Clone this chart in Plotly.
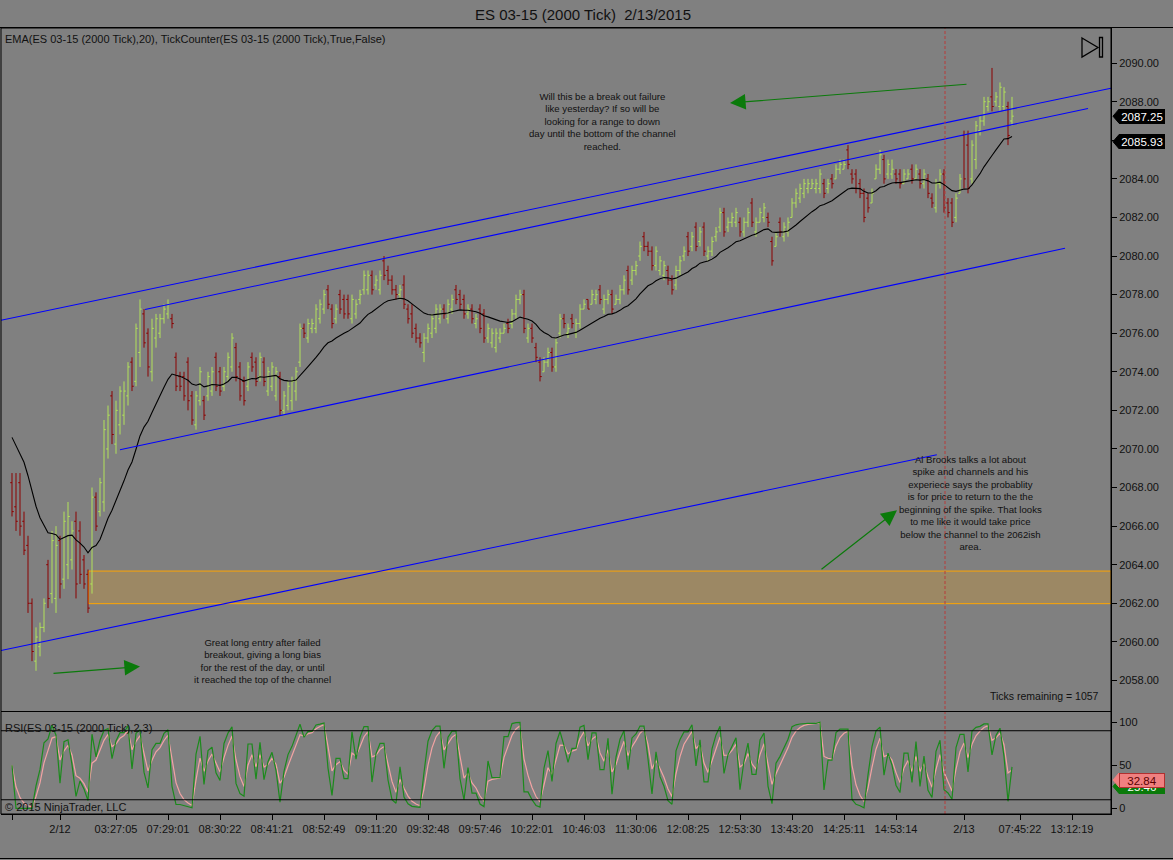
import plotly.graph_objects as go

# ---------------- data ----------------
opens = [
2068.25, 2067.00, 2068.25, 2066.25, 2065.00, 2062.00, 2059.00, 2059.75, 2060.75, 2064.00,
2062.50, 2062.25, 2065.25, 2063.25, 2064.00, 2064.25, 2066.25, 2065.75, 2064.25, 2063.50,
2063.00, 2067.50, 2066.75, 2067.25, 2070.00, 2072.75, 2070.25, 2071.25, 2071.75, 2072.75,
2074.50, 2073.50, 2075.00, 2077.00, 2076.00, 2074.00, 2075.75, 2076.00, 2076.75, 2077.00,
2076.75, 2074.75, 2073.75, 2073.75, 2074.50, 2072.75, 2071.25, 2072.50, 2072.50, 2072.75,
2073.00, 2074.75, 2074.00, 2073.25, 2073.75, 2074.25, 2075.25, 2074.25, 2073.50, 2073.25,
2074.75, 2074.50, 2073.75, 2074.50, 2073.00, 2073.25, 2072.75, 2073.75, 2072.00, 2072.25,
2072.50, 2073.00, 2074.50, 2076.25, 2075.75, 2076.25, 2076.25, 2076.75, 2077.25, 2078.25,
2077.25, 2076.75, 2078.00, 2077.75, 2077.75, 2076.75, 2077.00, 2077.75, 2078.25, 2078.25,
2079.00, 2078.50, 2078.25, 2079.75, 2079.25, 2078.75, 2078.25, 2078.00, 2078.50, 2077.25,
2077.00, 2076.25, 2075.75, 2075.00, 2075.75, 2076.00, 2076.25, 2076.75, 2077.25, 2076.75,
2077.25, 2078.25, 2078.00, 2077.75, 2077.00, 2077.25, 2076.50, 2077.25, 2077.00, 2075.75,
2075.50, 2075.25, 2075.75, 2076.00, 2076.50, 2076.50, 2077.00, 2077.75, 2078.00, 2075.75,
2076.25, 2075.25, 2074.50, 2074.00, 2074.50, 2075.00, 2074.25, 2076.00, 2076.75, 2076.00,
2076.75, 2076.00, 2076.50, 2077.25, 2077.75, 2077.50, 2077.75, 2078.25, 2077.25, 2077.75,
2078.00, 2077.50, 2077.75, 2078.25, 2079.25, 2078.75, 2079.25, 2080.00, 2081.00, 2080.50,
2080.25, 2079.50, 2079.25, 2079.00, 2079.25, 2078.75, 2078.50, 2079.25, 2080.00, 2081.00,
2080.50, 2081.50, 2080.75, 2081.50, 2080.00, 2080.25, 2081.00, 2081.50, 2082.25, 2081.50,
2081.75, 2081.75, 2081.75, 2081.25, 2081.75, 2082.75, 2081.25, 2081.75, 2082.00, 2082.00,
2080.75, 2080.50, 2081.75, 2081.00, 2081.25, 2082.00, 2082.75, 2083.00, 2083.25, 2083.50,
2083.50, 2083.50, 2083.50, 2083.75, 2083.50, 2084.00, 2084.00, 2084.50, 2084.50, 2085.50,
2084.25, 2084.25, 2083.75, 2083.25, 2083.00, 2082.75, 2084.00, 2084.50, 2085.00, 2084.25,
2084.25, 2084.25, 2084.25, 2083.75, 2084.00, 2084.50, 2084.00, 2084.25, 2083.75, 2084.00,
2083.00, 2082.50, 2083.75, 2084.25, 2082.75, 2082.75, 2082.00, 2083.25, 2086.25, 2085.75,
2084.00, 2085.00, 2086.50, 2087.00, 2087.75, 2088.25, 2088.00, 2087.75, 2087.75, 2087.75,
2087.00]

highs = [
2068.75, 2068.75, 2068.75, 2066.75, 2065.50, 2062.25, 2060.75, 2061.00, 2062.25, 2064.25,
2065.75, 2066.00, 2065.50, 2066.75, 2067.25, 2066.25, 2066.75, 2066.25, 2064.50, 2063.75,
2068.00, 2067.75, 2068.50, 2071.50, 2072.25, 2073.00, 2072.50, 2073.25, 2073.50, 2074.50,
2074.75, 2076.50, 2077.75, 2077.25, 2076.25, 2076.75, 2077.00, 2077.00, 2077.50, 2077.75,
2077.00, 2075.00, 2074.00, 2074.00, 2074.75, 2073.00, 2073.00, 2074.25, 2072.75, 2074.00,
2074.25, 2075.00, 2074.25, 2074.25, 2075.00, 2076.00, 2075.50, 2074.50, 2073.75, 2074.50,
2075.00, 2074.75, 2075.00, 2074.75, 2074.25, 2074.50, 2074.25, 2074.00, 2073.00, 2073.50,
2073.75, 2074.25, 2076.50, 2076.50, 2076.75, 2076.75, 2077.50, 2077.75, 2078.25, 2078.50,
2077.50, 2077.50, 2078.25, 2078.00, 2078.00, 2078.00, 2077.75, 2078.25, 2079.25, 2079.25,
2079.25, 2079.00, 2079.25, 2080.00, 2079.50, 2079.00, 2078.50, 2078.50, 2079.00, 2077.50,
2077.50, 2076.50, 2076.00, 2076.00, 2076.50, 2077.00, 2077.50, 2077.50, 2077.50, 2077.75,
2078.00, 2078.50, 2078.25, 2078.00, 2077.50, 2077.50, 2077.00, 2077.50, 2077.25, 2076.50,
2076.25, 2076.25, 2076.25, 2076.50, 2076.75, 2077.25, 2078.00, 2078.25, 2078.25, 2076.50,
2076.50, 2075.50, 2074.75, 2074.75, 2075.25, 2075.25, 2075.75, 2077.00, 2077.00, 2076.50,
2077.00, 2076.75, 2077.50, 2077.75, 2077.75, 2078.25, 2078.25, 2078.50, 2078.00, 2078.25,
2078.25, 2078.00, 2078.50, 2079.00, 2079.50, 2079.50, 2079.75, 2080.75, 2081.25, 2080.75,
2080.50, 2080.50, 2080.00, 2079.75, 2079.50, 2079.00, 2079.50, 2080.00, 2080.50, 2081.25,
2081.25, 2081.75, 2081.50, 2081.75, 2080.50, 2081.00, 2081.50, 2082.50, 2082.50, 2082.00,
2082.25, 2082.50, 2082.00, 2082.00, 2082.50, 2083.00, 2082.00, 2082.50, 2082.75, 2082.25,
2081.00, 2081.25, 2082.00, 2081.75, 2082.00, 2083.00, 2083.50, 2083.75, 2084.00, 2084.00,
2084.00, 2084.00, 2084.50, 2084.00, 2084.00, 2084.25, 2084.75, 2085.00, 2085.00, 2085.75,
2084.50, 2084.50, 2084.00, 2083.50, 2083.25, 2083.50, 2084.75, 2085.50, 2085.25, 2085.00,
2085.00, 2084.50, 2084.50, 2084.50, 2084.50, 2084.75, 2084.75, 2084.50, 2084.50, 2084.25,
2083.25, 2084.00, 2084.50, 2084.50, 2083.00, 2083.00, 2083.25, 2084.25, 2086.50, 2086.50,
2086.00, 2087.00, 2087.25, 2088.25, 2088.25, 2089.75, 2088.50, 2089.00, 2088.75, 2088.00,
2088.25]

lows = [
2066.50, 2065.75, 2065.50, 2064.50, 2061.50, 2059.00, 2058.50, 2059.25, 2060.50, 2061.75,
2062.00, 2061.50, 2062.25, 2062.75, 2063.25, 2063.75, 2062.25, 2063.00, 2062.75, 2061.50,
2062.50, 2065.75, 2066.50, 2066.75, 2069.50, 2070.25, 2069.75, 2070.75, 2071.25, 2072.25,
2073.00, 2073.25, 2074.25, 2075.25, 2073.75, 2073.50, 2075.25, 2075.75, 2076.50, 2076.75,
2076.25, 2073.00, 2073.00, 2072.50, 2072.00, 2071.25, 2071.00, 2072.25, 2071.50, 2072.50,
2072.75, 2073.00, 2072.75, 2073.00, 2073.50, 2074.00, 2073.50, 2072.50, 2072.25, 2073.00,
2074.00, 2073.25, 2073.50, 2073.25, 2072.75, 2073.00, 2072.50, 2071.75, 2071.75, 2072.00,
2072.00, 2072.50, 2074.25, 2075.75, 2075.50, 2076.00, 2076.00, 2076.50, 2077.00, 2077.25,
2076.25, 2076.50, 2077.00, 2076.75, 2076.75, 2076.50, 2076.75, 2077.50, 2078.00, 2078.00,
2078.00, 2078.25, 2078.00, 2078.75, 2078.50, 2078.00, 2077.75, 2077.75, 2077.25, 2076.50,
2075.75, 2075.50, 2075.25, 2074.50, 2075.50, 2075.75, 2076.00, 2076.50, 2076.75, 2076.50,
2077.00, 2077.50, 2077.25, 2076.75, 2076.75, 2076.50, 2076.25, 2076.00, 2075.50, 2075.50,
2075.25, 2075.00, 2075.50, 2076.00, 2076.00, 2076.25, 2076.75, 2077.50, 2076.00, 2075.50,
2075.50, 2074.50, 2073.50, 2074.00, 2074.25, 2074.00, 2074.00, 2075.75, 2076.25, 2075.75,
2076.25, 2075.75, 2076.25, 2077.25, 2077.25, 2077.50, 2077.50, 2077.50, 2077.00, 2077.50,
2077.00, 2077.50, 2077.50, 2078.00, 2078.00, 2078.50, 2079.00, 2079.75, 2080.25, 2080.00,
2079.25, 2079.25, 2079.00, 2078.75, 2078.50, 2078.00, 2078.25, 2079.00, 2079.75, 2080.00,
2080.25, 2080.25, 2080.50, 2080.00, 2079.75, 2080.00, 2080.75, 2081.25, 2081.00, 2081.25,
2081.50, 2081.50, 2081.00, 2081.00, 2081.50, 2081.50, 2081.00, 2081.75, 2081.75, 2081.50,
2079.50, 2080.50, 2081.00, 2080.75, 2081.00, 2082.00, 2082.50, 2082.75, 2083.00, 2083.25,
2083.50, 2083.25, 2083.25, 2083.00, 2083.25, 2083.50, 2084.00, 2084.25, 2084.50, 2084.50,
2083.75, 2083.25, 2083.00, 2081.75, 2082.25, 2082.75, 2084.00, 2084.25, 2083.75, 2084.00,
2084.00, 2083.75, 2083.50, 2083.75, 2084.00, 2083.75, 2084.00, 2083.50, 2083.50, 2083.00,
2082.50, 2082.25, 2083.50, 2082.25, 2082.00, 2081.50, 2081.75, 2083.25, 2083.50, 2083.25,
2083.75, 2084.50, 2086.25, 2086.75, 2087.50, 2087.50, 2087.75, 2087.50, 2087.50, 2085.75,
2086.75]

closes = [
2066.75, 2066.25, 2066.00, 2064.75, 2062.00, 2059.50, 2060.25, 2060.75, 2062.00, 2062.25,
2065.25, 2065.00, 2063.00, 2066.25, 2066.50, 2065.75, 2063.00, 2063.50, 2063.00, 2061.75,
2067.50, 2066.00, 2068.25, 2071.00, 2071.75, 2070.75, 2072.00, 2073.00, 2073.00, 2074.25,
2073.25, 2076.25, 2077.25, 2075.50, 2074.25, 2076.25, 2076.75, 2076.75, 2077.25, 2077.50,
2076.50, 2073.25, 2073.25, 2072.75, 2072.50, 2071.50, 2072.75, 2074.00, 2071.75, 2073.75,
2074.00, 2073.25, 2073.00, 2074.00, 2074.75, 2075.75, 2073.75, 2072.75, 2072.50, 2074.25,
2074.25, 2073.50, 2074.75, 2073.50, 2074.00, 2074.25, 2074.00, 2072.00, 2072.75, 2073.25,
2073.50, 2074.00, 2076.25, 2076.00, 2076.50, 2076.50, 2077.25, 2077.50, 2078.00, 2077.50,
2076.50, 2077.25, 2077.25, 2077.00, 2077.00, 2077.75, 2077.50, 2078.00, 2079.00, 2079.00,
2078.25, 2078.75, 2079.00, 2079.00, 2078.75, 2078.25, 2078.00, 2078.25, 2077.50, 2076.75,
2076.00, 2075.75, 2075.50, 2075.75, 2076.25, 2076.75, 2077.25, 2077.25, 2077.00, 2077.50,
2077.75, 2077.75, 2077.50, 2077.00, 2077.25, 2076.75, 2076.75, 2076.25, 2075.75, 2076.25,
2076.00, 2076.00, 2076.00, 2076.25, 2076.25, 2077.00, 2077.75, 2078.00, 2076.25, 2076.25,
2075.75, 2074.75, 2073.75, 2074.50, 2075.00, 2074.25, 2075.50, 2076.75, 2076.50, 2076.25,
2076.50, 2076.50, 2077.25, 2077.50, 2077.25, 2078.00, 2078.00, 2077.75, 2077.75, 2078.00,
2077.25, 2077.75, 2078.25, 2078.75, 2078.25, 2079.25, 2079.50, 2080.50, 2080.50, 2080.25,
2079.50, 2080.25, 2079.75, 2079.50, 2078.75, 2078.25, 2079.25, 2079.75, 2080.25, 2080.25,
2081.00, 2080.50, 2081.25, 2080.25, 2080.25, 2080.75, 2081.25, 2082.25, 2081.25, 2081.75,
2082.00, 2082.25, 2081.25, 2081.75, 2082.25, 2081.75, 2081.75, 2082.25, 2082.50, 2081.75,
2079.75, 2081.00, 2081.25, 2081.50, 2081.75, 2082.75, 2083.25, 2083.50, 2083.75, 2083.75,
2083.75, 2083.75, 2084.25, 2083.25, 2083.75, 2083.75, 2084.50, 2084.75, 2084.75, 2084.75,
2084.00, 2083.50, 2083.25, 2082.00, 2082.50, 2083.25, 2084.50, 2085.25, 2084.00, 2084.75,
2084.50, 2084.00, 2083.75, 2084.25, 2084.25, 2084.00, 2084.50, 2083.75, 2084.25, 2083.25,
2082.75, 2083.75, 2084.25, 2082.50, 2082.25, 2081.75, 2083.00, 2084.00, 2084.00, 2083.50,
2085.75, 2086.75, 2087.00, 2088.00, 2088.00, 2087.75, 2088.25, 2088.75, 2088.50, 2086.25,
2087.25]

bar_index = list(range(len(closes)))

tick_bars = [0, 12, 26, 39, 52, 65, 78, 91, 104, 117, 130, 143, 156, 169,
             182, 195, 208, 221, 238, 252, 265]
tick_labels = ["", "2/12", "03:27:05", "07:29:01", "08:30:22", "08:41:21",
               "08:52:49", "09:11:20", "09:32:48", "09:57:46", "10:22:01",
               "10:46:03", "11:30:06", "12:08:25", "12:53:30", "13:43:20",
               "14:25:11", "14:53:14", "2/13", "07:45:22", "13:12:19"]

price_ticks = list(range(2058, 2091, 2))
hidden_price_ticks = [2086]   # covered by the EMA value tag in the reference
rsi_ticks = [0, 50, 100]

ema_period = 20
ema_seed = 2070.6          # EMA value at the first visible bar
rsi_period = 2
rsi_smooth = 3

last_price_label = "2087.25"
ema_label = "2085.93"
rsi_avg_label = "32.84"
rsi_label = "25.46"
ticks_remaining = 1057

# ---------------- indicators ----------------
k = 2.0 / (ema_period + 1)
ema = [ema_seed]
for c in closes[1:]:
    ema.append(ema[-1] + k * (c - ema[-1]))

ups, downs = [0.0], [0.0]
avg_up = avg_dn = 0.0
rsi_vals, rsi_avg = [50.0], [50.0]
for i in range(1, len(closes)):
    ch = closes[i] - closes[i - 1]
    ups.append(max(ch, 0.0))
    downs.append(max(-ch, 0.0))
    if i + 1 == rsi_period:
        avg_up = sum(ups[-rsi_period:]) / rsi_period
        avg_dn = sum(downs[-rsi_period:]) / rsi_period
    else:
        avg_up = (avg_up * (rsi_period - 1) + ups[-1]) / rsi_period
        avg_dn = (avg_dn * (rsi_period - 1) + downs[-1]) / rsi_period
    v = 100.0 if avg_dn == 0 else 100 - 100 / (1 + avg_up / avg_dn)
    rsi_vals.append(v)
    c1 = 2.0 / (1 + rsi_smooth)
    rsi_avg.append(c1 * v + (1 - c1) * rsi_avg[-1])

# ---------------- geometry ----------------
W, H = 1173, 860
PL, PR, PT, PB = 1, 1111, 28, 814
SPLIT = 711.5


def px(x):
    return (x - PL) / (PR - PL)


def py(y):
    return (PB - y) / (PB - PT)


XR = [-2.75, 274.75]
YR = [2056.39, 2091.82]
Y2R = [-6.5, 112.3]
dom_split = py(SPLIT)

FONT = "Liberation Sans, Arial, sans-serif"
TXT = "#111111"
UP = "#B2E25A"
DOWN = "#8B0000"

fig = go.Figure()
fig.add_trace(go.Ohlc(
    x=bar_index, open=opens, high=highs, low=lows, close=closes,
    increasing=dict(line=dict(color=UP, width=1)),
    decreasing=dict(line=dict(color=DOWN, width=1)),
    tickwidth=0.45, hoverinfo="skip", showlegend=False,
    xaxis="x", yaxis="y"))
fig.add_trace(go.Scatter(
    x=bar_index, y=ema, mode="lines", line=dict(color="black", width=1.1),
    hoverinfo="skip", showlegend=False, xaxis="x", yaxis="y"))
fig.add_trace(go.Scatter(
    x=bar_index, y=rsi_avg, mode="lines", line=dict(color="#F2A3A3", width=1.2),
    hoverinfo="skip", showlegend=False, xaxis="x", yaxis="y2"))
fig.add_trace(go.Scatter(
    x=bar_index, y=rsi_vals, mode="lines", line=dict(color="#1C8A1C", width=1.2),
    hoverinfo="skip", showlegend=False, xaxis="x", yaxis="y2"))

shapes = []
# orange zone
shapes.append(dict(type="rect", xref="x", yref="y", x0=19.1, x1=XR[1],
                   y0=2061.98, y1=2063.67, fillcolor="rgba(255,165,0,0.22)",
                   line=dict(color="#FFA500", width=1), layer="below"))
# channel lines
blue = dict(color="#0000FF", width=1.1)
for (x0, y0, x1, y1) in [(XR[0], 2076.67, XR[1], 2088.70),
                         (33.25, 2077.23, 269.0, 2087.65),
                         (27.0, 2069.96, 263.25, 2080.40),
                         (XR[0], 2059.55, 231.2, 2069.70)]:
    shapes.append(dict(type="line", xref="x", yref="y", x0=x0, y0=y0,
                       x1=x1, y1=y1, line=blue))
# session break
shapes.append(dict(type="line", xref="x", yref="paper", x0=233.25, x1=233.25,
                   y0=0, y1=1, line=dict(color="#B83A3A", width=1, dash="3px,2px")))
# RSI level lines
for lv in (90, 10):
    shapes.append(dict(type="line", xref="paper", yref="y2", x0=0, x1=1,
                       y0=lv, y1=lv, line=dict(color="black", width=1)))
# panel frames
shapes.append(dict(type="rect", xref="paper", yref="paper", x0=0, x1=1,
                   y0=dom_split, y1=1, line=dict(color="black", width=1)))
shapes.append(dict(type="rect", xref="paper", yref="paper", x0=0, x1=1,
                   y0=0, y1=dom_split, line=dict(color="black", width=1)))
shapes.append(dict(type="line", xref="paper", yref="paper", x0=px(0), x1=px(1173),
                   y0=py(27.5), y1=py(27.5), line=dict(color="black", width=1)))
shapes.append(dict(type="line", xref="paper", yref="paper", x0=px(0), x1=px(1173),
                   y0=py(858.5), y1=py(858.5), line=dict(color="black", width=1)))
# ">|" icon
shapes.append(dict(type="path", xref="paper", yref="paper",
                   path=f"M {px(1082)} {py(38)} L {px(1098)} {py(47.5)} L {px(1082)} {py(57)} Z",
                   line=dict(color="black", width=1.3)))
shapes.append(dict(type="rect", xref="paper", yref="paper", x0=px(1099.5), x1=px(1102.5),
                   y0=py(57), y1=py(37.5), line=dict(color="black", width=1.3)))


def tag_pointer(yref, yval, color):
    return dict(type="path", xref="paper", yref=yref, xsizemode="pixel",
                ysizemode="pixel", xanchor=1, yanchor=yval,
                path="M 2 0 L 8 7 L 8 -7 Z", fillcolor=color,
                line=dict(color=color, width=1))


shapes.append(tag_pointer("y", float(ema_label), "black"))
shapes.append(tag_pointer("y", float(last_price_label), "black"))
shapes.append(tag_pointer("y2", float(rsi_label), "#0A7A0A"))
shapes.append(tag_pointer("y2", float(rsi_avg_label), "#F08080"))

ann = []


def text(x, y, s, size=9.6, xref="x", yref="y", xanchor="center", align="center",
         color=TXT, yanchor="middle"):
    ann.append(dict(x=x, y=y, xref=xref, yref=yref, text=s, showarrow=False,
                    xanchor=xanchor, yanchor=yanchor, align=align,
                    font=dict(family=FONT, size=size, color=color)))


text(px(583), py(14), "ES 03-15 (2000 Tick)  2/13/2015", size=15, xref="paper", yref="paper")
text(px(3), py(39), "EMA(ES 03-15 (2000 Tick),20), TickCounter(ES 03-15 (2000 Tick),True,False)",
     size=11, xref="paper", yref="paper", xanchor="left", align="left")
text(px(3), py(728), "RSI(ES 03-15 (2000 Tick),2,3)", size=11, xref="paper",
     yref="paper", xanchor="left", align="left")
text(px(3), py(807), "© 2015 NinjaTrader, LLC", size=11, xref="paper",
     yref="paper", xanchor="left", align="left")
text(px(1101), py(696), f"Ticks remaining = {ticks_remaining}", size=10.5,
     xref="paper", yref="paper", xanchor="right", align="right")

text(147.5, 2086.97, "Will this be a break out failure<br>like yesterday? If so will be<br>"
     "looking for a range to down<br>day until the bottom of the channel<br>reached.")
text(239.5, 2067.20, "Al Brooks talks a lot about<br>spike and channels and his<br>"
     "experiece says the probablity<br>is for price to return to the the<br>"
     "beginning of the spike. That looks<br>to me like it would take price<br>"
     "below the channel to the 2062ish<br>area.")
text(62.5, 2059.01, "Great long entry after failed<br>breakout, giving a long bias<br>"
     "for the rest of the day, or until<br>it reached the top of the channel")

# arrows (head, tail)
for (hx, hy, tx, ty) in [(179.5, 2087.93, 239.0, 2088.91),
                         (221.25, 2066.82, 202.0, 2063.70),
                         (32.0, 2058.72, 10.0, 2058.36)]:
    ann.append(dict(x=hx, y=hy, ax=tx, ay=ty, xref="x", yref="y", axref="x",
                    ayref="y", text="", showarrow=True, arrowhead=2,
                    arrowsize=2.6, arrowwidth=1.2, arrowcolor="#0B7A0B",
                    standoff=0, startstandoff=0))


def tag(yref, yval, s, bg, fg, border):
    ann.append(dict(x=1, y=yval, xref="paper", yref=yref, text=s, showarrow=False,
                    xanchor="left", yanchor="middle", xshift=8, width=44, height=13,
                    bgcolor=bg, bordercolor=border, borderwidth=1, borderpad=0,
                    font=dict(family=FONT, size=11.5, color=fg)))


tag("y", float(ema_label), ema_label, "black", "white", "black")
tag("y", float(last_price_label), last_price_label, "black", "white", "black")
tag("y2", float(rsi_label), rsi_label, "#0A7A0A", "white", "#0A7A0A")
tag("y2", float(rsi_avg_label), rsi_avg_label, "#F08080", "#5A0000", "#B03030")

axis_common = dict(showgrid=False, zeroline=False, showline=True, linecolor="black",
                   linewidth=1, ticks="outside", ticklen=5, tickcolor="black",
                   tickfont=dict(family=FONT, size=11, color=TXT))

fig.update_layout(
    width=W, height=H,
    margin=dict(l=PL, r=W - PR, t=PT, b=H - PB, pad=0),
    paper_bgcolor="#808080", plot_bgcolor="#808080",
    showlegend=False,
    xaxis=dict(domain=[0, 1], range=XR, anchor="y2", tickmode="array",
               tickvals=tick_bars, ticktext=tick_labels,
               rangeslider=dict(visible=False), **axis_common),
    yaxis=dict(domain=[dom_split, 1], range=YR, side="right", anchor="x",
               tickmode="array", tickvals=price_ticks,
               ticktext=["" if v in hidden_price_ticks else f"{v:.2f}" for v in price_ticks],
               **axis_common),
    yaxis2=dict(domain=[0, dom_split], range=Y2R, side="right", anchor="x",
                tickmode="array", tickvals=rsi_ticks,
                ticktext=[str(v) for v in rsi_ticks], **axis_common),
    shapes=shapes, annotations=ann,
)

fig.write_html("out.html", config={"displayModeBar": False},
               post_script="document.body.style.margin='0';"
                           "document.body.style.background='#808080';")
